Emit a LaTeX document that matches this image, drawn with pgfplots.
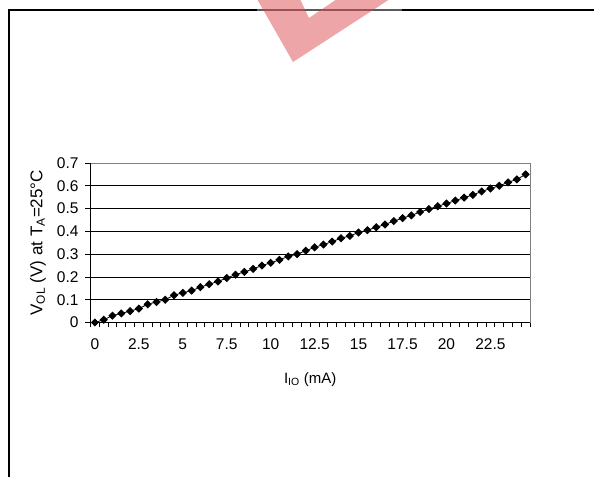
\documentclass[border=0pt]{standalone}
\usepackage{pgfplots}
\pgfplotsset{compat=1.18}
\usepackage{fontspec}
\setmainfont{Liberation Sans}
\definecolor{wm}{RGB}{219,75,81}
\pgfplotstableread{
x y
0 0
0.5 0.012
1 0.03
1.5 0.04
2 0.05
2.5 0.061
3 0.08
3.5 0.09
4 0.10
4.5 0.12
5 0.13
5.5 0.14
6 0.155
6.5 0.168
7 0.18
7.5 0.195
8 0.21
8.5 0.222
9 0.235
9.5 0.25
10 0.262
10.5 0.275
11 0.29
11.5 0.30
12 0.315
12.5 0.33
13 0.342
13.5 0.355
14 0.37
14.5 0.38
15 0.395
15.5 0.405
16 0.418
16.5 0.43
17 0.445
17.5 0.458
18 0.47
18.5 0.485
19 0.498
19.5 0.51
20 0.522
20.5 0.535
21 0.548
21.5 0.56
22 0.575
22.5 0.588
23 0.60
23.5 0.615
24 0.628
24.5 0.65
}\datatab
\begin{document}
\begin{tikzpicture}
\useasboundingbox (0,0) rectangle (594bp,477bp);
% frame
\draw[line width=2bp] (9bp,-5bp) -- (9bp,467bp) -- (257bp,467bp);
\draw[line width=2bp] (402bp,467bp) -- (600bp,467bp);
\draw[line width=2bp, black!65] (257bp,467bp) -- (402bp,467bp);
% watermark
\fill[wm, opacity=0.5, even odd rule]
  (257bp,478bp) -- (293bp,415bp) -- (390bp,478bp) -- cycle
  (300bp,478bp) -- (309bp,459bp) -- (337bp,478bp) -- cycle;
\begin{axis}[
  at={(90.5bp,154.5bp)}, anchor=south west,
  scale only axis, width=439.5bp, height=159.5bp,
  xmin=-0.25, xmax=24.75, ymin=0, ymax=0.7,
  xtick={0,2.5,5,7.5,10,12.5,15,17.5,20,22.5},
  minor xtick={-0.25,0.25,...,24.75},
  ytick={0,0.1,...,0.7},
  tick pos=left, tick align=outside,
  major tick length=5bp, minor tick length=5bp,
  x tick style={draw=none},
  minor x tick style={draw=black, line width=0.8bp},
  y tick style={draw=black, line width=0.8bp},
  ymajorgrids=true,
  major grid style={black, line width=0.8bp},
  axis line style={black!50, line width=1bp},
  /pgf/number format/assume math mode=true,
  ticklabel style={font=\fontsize{15.5bp}{17bp}\selectfont},
  yticklabel style={/pgf/number format/fixed, /pgf/number format/precision=1, xshift=-3.5bp},
  xticklabel style={/pgf/number format/fixed, /pgf/number format/precision=1, yshift=-8bp},
  xlabel={I\textsubscript{IO} (mA)},
  ylabel={V\textsubscript{OL} (V) at T\textsubscript{A}=25°C},
  every axis x label/.style={at={(rel axis cs:0.5,0)}, yshift=-57bp, anchor=center, font=\fontsize{15bp}{17bp}\selectfont},
  every axis y label/.style={at={(rel axis cs:0,0.5)}, xshift=-52.5bp, yshift=0bp, rotate=90, anchor=center, font=\fontsize{17bp}{19bp}\selectfont},
  clip=false,
]
\addplot[black, line width=0.8bp, mark=square*, mark size=2.5bp, mark options={rotate=45, solid, fill=black}] table[x=x,y=y] {\datatab};
\draw[black, line width=1bp] (rel axis cs:0,1) -- (rel axis cs:0,0) -- (rel axis cs:1,0);
\end{axis}
\end{tikzpicture}
\end{document}
